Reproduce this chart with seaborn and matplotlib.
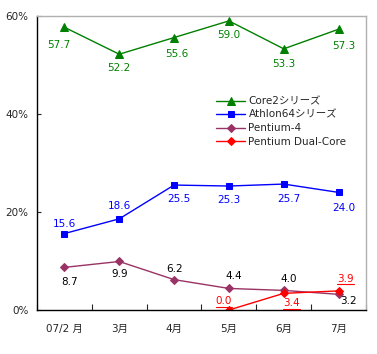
import matplotlib
matplotlib.use("Agg")
import matplotlib.pyplot as plt
from matplotlib.lines import Line2D
import seaborn as sns
import numpy as np
import pandas as pd

months = ["07/2 月", "3月", "4月", "5月", "6月", "7月"]
core2 = [57.7, 52.2, 55.6, 59.0, 53.3, 57.3]
athlon = [15.6, 18.6, 25.5, 25.3, 25.7, 24.0]
p4 = [8.7, 9.9, 6.2, 4.4, 4.0, 3.2]
pdc = [np.nan, np.nan, np.nan, 0.0, 3.4, 3.9]
series_names = ["Core2シリーズ", "Athlon64シリーズ", "Pentium-4", "Pentium Dual-Core"]
yticks = [0, 20, 40, 60]

sns.set_style("white")
plt.rcParams['font.family'] = ['DejaVu Sans', 'Noto Sans CJK JP']

rows = []
for name, vals in zip(series_names, [core2, athlon, p4, pdc]):
    for i, v in enumerate(vals):
        rows.append({"x": i, "month": months[i], "value": v, "series": name})
df = pd.DataFrame(rows)

colors = {"Core2シリーズ": "#008000", "Athlon64シリーズ": "#0000FF",
          "Pentium-4": "#993366", "Pentium Dual-Core": "#FF0000"}
markers = {"Core2シリーズ": "^", "Athlon64シリーズ": "s",
           "Pentium-4": "D", "Pentium Dual-Core": "D"}
msizes = {"Core2シリーズ": 6, "Athlon64シリーズ": 5,
          "Pentium-4": 4.2, "Pentium Dual-Core": 4.2}

fig = plt.figure(figsize=(3.77, 3.54), dpi=100)
ax = fig.add_axes([37/377, 1-310/354, 329/377, 294/354])

for name in series_names:
    sub = df[df.series == name].dropna()
    sns.lineplot(data=sub, x="x", y="value", ax=ax, color=colors[name],
                 marker=markers[name], markersize=msizes[name],
                 markeredgecolor=colors[name], linewidth=1, label=name)

# label offsets in pixels (dx, dy down positive)
offsets = {
    "Core2シリーズ": [(-6, 18), (0, 14), (3, 16), (0, 14), (0, 15), (5, 17)],
    "Athlon64シリーズ": [(0, -10), (0, -13), (5, 14), (0, 14), (5, 15), (5, 16)],
    "Pentium-4": [(5, 15), (0, 13), (0, -11), (5, -12), (5, -11), (10, 7)],
    "Pentium Dual-Core": [None, None, None, (-5, -9), (8, 10), (7, -12)],
}
k = 72 / 100
underlined = []
for name, vals in zip(series_names, [core2, athlon, p4, pdc]):
    for i, v in enumerate(vals):
        if np.isnan(v):
            continue
        dx, dy = offsets[name][i]
        tcolor = colors[name]
        if name == "Pentium-4":
            tcolor = "black"
        t = ax.annotate(f"{v:.1f}", (i, v), xytext=(dx * k, -dy * k), textcoords="offset points",
                        ha="center", va="center", color=tcolor, fontsize=7.5,
                        annotation_clip=False)
        if name == "Pentium Dual-Core":
            underlined.append(t)

ax.set_xlim(-0.5, 5.5)
ax.set_ylim(0, 60)
ax.set_xticks(np.arange(-0.5, 6, 1))
ax.set_xticklabels([])
ax.set_xticks(range(6), minor=True)
ax.set_xticklabels(months, minor=True, fontsize=7.5)
ax.tick_params(axis="x", which="minor", length=0, pad=10)
ax.tick_params(axis="x", which="major", direction="in", length=4, width=0.8, bottom=True)
ax.set_yticks(yticks)
ax.set_yticklabels([f"{t}%" for t in yticks], fontsize=7.5)
ax.tick_params(axis="y", direction="in", length=3, width=0.8, left=True, pad=6)
ax.set_xlabel("")
ax.set_ylabel("")
for s in ["left", "bottom"]:
    ax.spines[s].set_color("black")
    ax.spines[s].set_linewidth(1)
for s in ["top", "right"]:
    ax.spines[s].set_color("#b0b0b0")
    ax.spines[s].set_linewidth(1)

leg = ax.legend(loc="upper left", bbox_to_anchor=(175/329, (310-92)/294), frameon=False,
                fontsize=7.5, handlelength=2.8, handletextpad=0.3, labelspacing=0.35,
                borderaxespad=0)

fig.canvas.draw()
renderer = fig.canvas.get_renderer()
W, H = fig.bbox.width, fig.bbox.height
for t in underlined:
    bb = t.get_window_extent(renderer)
    y = (bb.y0 - 0.5) / H
    fig.add_artist(Line2D([bb.x0 / W, bb.x1 / W], [y, y], color="#FF0000", linewidth=0.8))

fig.savefig("out.png", dpi=100)
